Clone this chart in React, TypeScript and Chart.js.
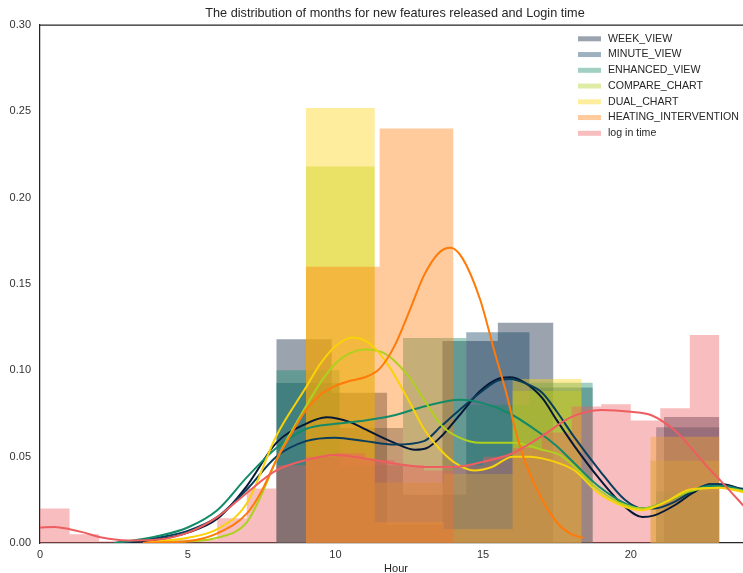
import React, { useEffect, useRef } from "react";
import { Chart, registerables } from "chart.js";
Chart.register(...registerables);

const TITLE = "The distribution of months for new features released and Login time";
const X_LABEL = "Hour";
const SERIES_NAMES = ["WEEK_VIEW", "MINUTE_VIEW", "ENHANCED_VIEW", "COMPARE_CHART", "DUAL_CHART", "HEATING_INTERVENTION", "log in time"];
const SERIES_COLORS = ["#051937", "#0a3d5c", "#138a68", "#b0d020", "#f9d20a", "#ff7a08", "#ee5d60"];
const Y_TICKS = [0, 0.05, 0.1, 0.15, 0.2, 0.25, 0.3];
const X_TICKS = [0, 5, 10, 15, 20];

// histogram bin edges and densities
const WEEK_EDGES = [8, 9.875, 11.75, 13.625, 15.5, 17.375, 19.25, 21.125, 23];
const WEEK_HIST = [0.118, 0.087, 0.0105, 0.117, 0.1275, 0, 0, 0.073];
const MINUTE_EDGES = [8, 10.14, 12.29, 14.43, 16.57, 18.71, 20.86, 23];
const MINUTE_HIST = [0.0926, 0.0666, 0.028, 0.122, 0.09, 0, 0.067];
const ENHANCED_EDGES = [8, 10.14, 12.29, 14.43, 16.57, 18.71, 20.86, 23];
const ENHANCED_HIST = [0.1, 0.045, 0.1187, 0.08, 0.0928, 0, 0.03];
const COMPARE_EDGES = [9, 11.33, 13.67, 16, 18.33, 20.67, 23];
const COMPARE_HIST = [0.218, 0.035, 0.04, 0.088, 0, 0.0476];
const DUAL_EDGES = [9, 11.33, 13.67, 16, 18.33, 20.67, 23];
const DUAL_HIST = [0.252, 0.012, 0.008, 0.095, 0, 0.0615];
const HEATING_EDGES = [9, 11.5, 14];
const HEATING_HIST = [0.16, 0.24];
const LOGIN_EDGES = [0, 1, 2, 3, 4, 5, 6, 7, 8, 9, 10, 11, 12, 13, 14, 15, 16, 17, 18, 19, 20, 21, 22, 23];
const LOGIN_HIST = [0.02, 0.005, 0.001, 0.0005, 0.002, 0.002, 0.0143, 0.0315, 0.045, 0.05, 0.052, 0.048, 0.045, 0.042, 0.045, 0.05, 0.055, 0.064, 0.079, 0.0803, 0.071, 0.078, 0.1204];

// KDE curves: [hour, density]
const WEEK_KDE = [[2.5, 0], [3, 0.0005], [4, 0.002], [5, 0.006], [6, 0.014], [7, 0.033], [8, 0.058], [9, 0.069], [9.7, 0.0728], [10.5, 0.07], [11, 0.066], [12, 0.058], [12.7, 0.054], [13.1, 0.055], [13.6, 0.062], [14.2, 0.074], [14.9, 0.088], [15.5, 0.095], [15.9, 0.096], [16.4, 0.093], [17, 0.084], [17.5, 0.071], [18.1, 0.056], [18.9, 0.038], [19.8, 0.021], [20.4, 0.015], [20.8, 0.016], [21.5, 0.022], [22.1, 0.029], [22.7, 0.034], [23.1, 0.034], [23.9, 0.03]];
const MINUTE_KDE = [[2.5, 0], [3, 0.0005], [4, 0.003], [5, 0.007], [6, 0.015], [7, 0.031], [8, 0.05], [9, 0.059], [10, 0.061], [11, 0.059], [12, 0.057], [13, 0.059], [13.6, 0.068], [14.2, 0.077], [14.9, 0.087], [15.5, 0.094], [15.9, 0.095], [16.5, 0.092], [17, 0.087], [17.5, 0.076], [18.1, 0.061], [18.9, 0.043], [19.8, 0.025], [20.4, 0.02], [20.8, 0.02], [21.5, 0.024], [22.1, 0.03], [22.7, 0.034], [23.1, 0.0336], [23.9, 0.031]];
const ENHANCED_KDE = [[2.5, 0], [3, 0.001], [4, 0.004], [5, 0.009], [6, 0.019], [7, 0.038], [8, 0.055], [9, 0.066], [10, 0.069], [11, 0.071], [12, 0.074], [13, 0.079], [14.2, 0.083], [15, 0.081], [15.9, 0.075], [16.9, 0.064], [17.5, 0.056], [18.1, 0.046], [18.9, 0.033], [19.8, 0.023], [20.4, 0.02], [21.2, 0.024], [22, 0.03], [22.7, 0.033], [23.1, 0.033], [23.9, 0.03]];
const COMPARE_KDE = [[3.5, 0], [4, 0.0005], [5, 0.001], [6, 0.003], [7, 0.012], [7.5, 0.028], [8, 0.048], [9, 0.079], [9.5, 0.093], [10, 0.104], [10.5, 0.11], [11, 0.112], [11.75, 0.109], [12.5, 0.096], [13, 0.083], [13.6, 0.068], [14.2, 0.061], [14.9, 0.058], [16, 0.058], [17, 0.054], [17.6, 0.051], [18.1, 0.044], [18.9, 0.031], [19.8, 0.022], [20.4, 0.02], [21.2, 0.024], [22, 0.03], [23, 0.032], [23.9, 0.03]];
const DUAL_KDE = [[3.5, 0], [4, 0.001], [5, 0.003], [6, 0.008], [7, 0.023], [8, 0.062], [9, 0.09], [9.5, 0.104], [10, 0.114], [10.6, 0.119], [11.2, 0.115], [11.75, 0.104], [12.5, 0.082], [13, 0.066], [13.5, 0.055], [14, 0.047], [14.7, 0.042], [15.3, 0.044], [16, 0.05], [16.6, 0.05], [17, 0.049], [17.6, 0.046], [18.1, 0.042], [18.9, 0.029], [19.8, 0.021], [20.4, 0.019], [21.2, 0.024], [22, 0.031], [23, 0.032], [23.9, 0.029]];
const HEATING_KDE = [[3.5, 0], [4, 0.0003], [5, 0.001], [6, 0.0056], [7, 0.017], [7.5, 0.03], [8, 0.048], [8.5, 0.063], [9, 0.077], [9.5, 0.086], [10, 0.091], [10.5, 0.094], [11, 0.096], [11.5, 0.101], [12, 0.114], [12.5, 0.134], [13, 0.155], [13.5, 0.168], [13.9, 0.171], [14.3, 0.165], [14.9, 0.141], [15.4, 0.11], [15.8, 0.086], [16.1, 0.065], [16.4, 0.048], [17, 0.025], [17.6, 0.01], [18, 0.005], [18.4, 0.003]];
const LOGIN_KDE = [[0, 0.009], [0.5, 0.0093], [1, 0.008], [1.5, 0.006], [2, 0.0035], [3, 0.0015], [4, 0.002], [5, 0.006], [6, 0.015], [7, 0.029], [8, 0.042], [9, 0.048], [10, 0.051], [11, 0.049], [12, 0.046], [13, 0.044], [14, 0.044], [15, 0.047], [16, 0.052], [17, 0.062], [18, 0.073], [19, 0.077], [20, 0.076], [20.7, 0.074], [21.5, 0.065], [22, 0.056], [22.6, 0.044], [23.1, 0.035], [23.9, 0.02]];

const HISTS = [
  [WEEK_EDGES, WEEK_HIST],
  [MINUTE_EDGES, MINUTE_HIST],
  [ENHANCED_EDGES, ENHANCED_HIST],
  [COMPARE_EDGES, COMPARE_HIST],
  [DUAL_EDGES, DUAL_HIST],
  [HEATING_EDGES, HEATING_HIST],
  [LOGIN_EDGES, LOGIN_HIST],
];
const KDES = [WEEK_KDE, MINUTE_KDE, ENHANCED_KDE, COMPARE_KDE, DUAL_KDE, HEATING_KDE, LOGIN_KDE];

const FONT = '"Liberation Sans", Arial, sans-serif';
const INK = "#262626";

function rgba(hex: string, a: number) {
  const n = parseInt(hex.slice(1), 16);
  return `rgba(${(n >> 16) & 255},${(n >> 8) & 255},${n & 255},${a})`;
}

function stepPoints(edges: number[], heights: number[]) {
  const pts = [{ x: edges[0], y: 0 }];
  for (let i = 0; i < heights.length; i++) pts.push({ x: edges[i + 1], y: heights[i] });
  pts.push({ x: edges[edges.length - 1], y: 0 });
  return pts;
}

const overlay = {
  id: "overlay",
  afterDraw(chart: any) {
    const { ctx, chartArea } = chart;
    ctx.save();
    ctx.strokeStyle = INK;
    ctx.lineWidth = 1.25;
    ctx.beginPath();
    ctx.moveTo(chartArea.left - 0.5, chartArea.top);
    ctx.lineTo(chartArea.right, chartArea.top);
    ctx.stroke();

    ctx.fillStyle = INK;
    ctx.textAlign = "center";
    ctx.textBaseline = "middle";
    ctx.font = `12.7px ${FONT}`;
    ctx.fillText(TITLE, 395, 13);
    ctx.font = `11px ${FONT}`;
    ctx.fillText(X_LABEL, 396, 569);

    ctx.textAlign = "left";
    ctx.font = `10.6px ${FONT}`;
    SERIES_NAMES.forEach((name, i) => {
      const y = 38.8 + i * 15.75;
      ctx.fillStyle = rgba(SERIES_COLORS[i], 0.4);
      ctx.fillRect(578, y - 2.5, 23, 5);
      ctx.fillStyle = INK;
      ctx.fillText(name, 608, y);
    });
    ctx.restore();
  },
};

export default function App() {
  const ref = useRef<HTMLCanvasElement>(null);
  useEffect(() => {
    if (!ref.current) return;
    const datasets: any[] = [];
    HISTS.forEach(([edges, heights], i) => {
      datasets.push({
        type: "line",
        label: SERIES_NAMES[i] + " hist",
        data: stepPoints(edges as number[], heights as number[]),
        stepped: "after",
        borderWidth: 0,
        borderColor: "rgba(0,0,0,0)",
        backgroundColor: rgba(SERIES_COLORS[i], 0.4),
        fill: "origin",
        pointRadius: 0,
        order: 100 - i,
      });
    });
    KDES.forEach((pts, i) => {
      datasets.push({
        type: "line",
        label: SERIES_NAMES[i],
        data: pts.map(([x, y]) => ({ x, y })),
        borderColor: SERIES_COLORS[i],
        borderWidth: 2,
        fill: false,
        pointRadius: 0,
        cubicInterpolationMode: "monotone",
        order: 50 - i,
      });
    });
    const chart = new Chart(ref.current, {
      type: "line",
      data: { datasets },
      options: {
        responsive: false,
        animation: false,
        layout: { padding: { top: 25, right: 0, bottom: 0, left: 0 } },
        plugins: { legend: { display: false }, title: { display: false }, tooltip: { enabled: false } },
        scales: {
          x: {
            type: "linear",
            min: 0,
            max: 23.8,
            afterFit: (s: any) => { s.height = 30; },
            afterBuildTicks: (s: any) => { s.ticks = X_TICKS.map((v) => ({ value: v })); },
            ticks: { font: { size: 11, family: FONT }, color: "#333", padding: 5, callback: (v: any) => String(v) },
            grid: { display: false, drawTicks: false },
            border: { display: true, color: INK, width: 1.25 },
          },
          y: {
            min: 0,
            max: 0.3,
            afterFit: (s: any) => { s.width = 40; },
            afterBuildTicks: (s: any) => { s.ticks = Y_TICKS.map((v) => ({ value: v })); },
            ticks: { font: { size: 11, family: FONT }, color: "#333", padding: 9, callback: (v: any) => Number(v).toFixed(2) },
            grid: { display: false, drawTicks: false },
            border: { display: true, color: INK, width: 1.25 },
          },
        },
      },
      plugins: [overlay],
    });
    return () => chart.destroy();
  }, []);
  return (
    <div style={{ position: "absolute", left: 0, top: 0, width: 743, height: 573, background: "#fff" }}>
      <canvas ref={ref} width={743} height={573} />
    </div>
  );
}
